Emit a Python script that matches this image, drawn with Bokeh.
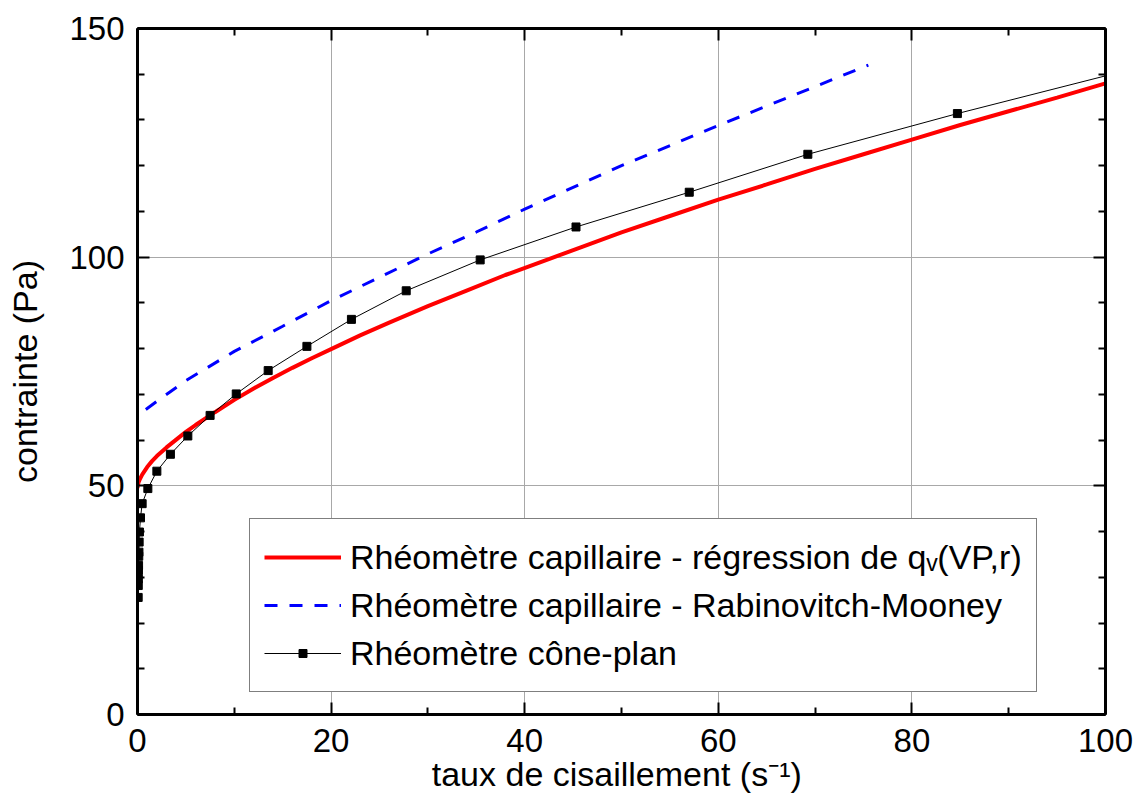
from bokeh.plotting import figure
from bokeh.models import (LinearAxis, Range1d, Legend, LegendItem, FixedTicker,
                          CustomLabelingPolicy)
from bokeh.embed import file_html
from bokeh.resources import INLINE

# ---- data ----
red_x = [0.0, 0.02, 0.1, 0.25, 0.5, 1.0, 1.5, 2.0, 3.0, 4.0, 5.0, 6.0, 8.0, 10.0, 12.0, 14.0, 16.0, 18.0, 20.0, 23.0, 26.0, 30.0, 34.0, 38.0, 42.0, 46.0, 50.0, 55.0, 60.0, 65.0, 70.0, 75.0, 80.0, 85.0, 90.0, 95.0, 100.0]
red_y = [49.5, 49.9, 50.7, 51.5, 52.5, 54.1, 55.4, 56.5, 58.4, 60.1, 61.8, 63.3, 66.1, 68.8, 71.3, 73.6, 75.8, 77.9, 79.9, 82.9, 85.7, 89.3, 92.7, 96.1, 99.2, 102.3, 105.4, 109.0, 112.6, 115.9, 119.3, 122.5, 125.7, 128.9, 131.9, 134.9, 138.0]

blue_x = [0.86, 2.0, 5.0, 10.0, 15.0, 20.0, 25.0, 30.0, 35.0, 40.0, 50.0, 60.0, 70.0, 75.5]
blue_y = [66.7, 68.5, 73.0, 79.4, 84.9, 90.5, 95.6, 100.7, 105.5, 110.5, 120.0, 128.8, 137.3, 142.0]

cone_x = [0.07, 0.08, 0.09, 0.1, 0.11, 0.13, 0.15, 0.17, 0.2, 0.31, 0.48, 1.07, 2.0, 3.4, 5.2, 7.5, 10.2, 13.5, 17.5, 22.1, 27.76, 35.4, 45.3, 57.0, 69.25, 84.7, 104.0]
cone_y = [25.6, 28.2, 29.7, 31.5, 32.6, 34.6, 35.5, 37.7, 39.9, 43.0, 46.1, 49.4, 53.2, 56.9, 60.9, 65.4, 70.1, 75.2, 80.5, 86.4, 92.65, 99.4, 106.6, 114.2, 122.5, 131.4, 141.8]

x_ticks = [0, 20, 40, 60, 80, 100]
x_minor = [10, 30, 50, 70, 90]
y_ticks = [0, 50, 100, 150]
y_minor = [10, 20, 30, 40, 60, 70, 80, 90, 110, 120, 130, 140]

labels = [
    "Rhéomètre capillaire - régression de qᵥ(VP,r)",
    "Rhéomètre capillaire - Rabinovitch-Mooney",
    "Rhéomètre cône-plan",
]

FONT = "Liberation Sans"

p = figure(width=1133, height=797, output_backend="svg", toolbar_location=None,
           x_range=Range1d(0, 100), y_range=Range1d(0, 150),
           min_border_left=137, min_border_right=28, min_border_top=28, min_border_bottom=83,
           x_axis_label="taux de cisaillement  (s⁻¹)", y_axis_label="contrainte (Pa)")

p.background_fill_color = "white"
p.border_fill_color = "white"
p.outline_line_color = "black"
p.outline_line_width = 2


def style_axis(ax, ticks, minor, labels_on=True):
    ax.ticker = FixedTicker(ticks=ticks, minor_ticks=minor)
    ax.axis_line_width = 3
    ax.axis_line_color = "black"
    ax.major_tick_in = 12
    ax.major_tick_out = 0
    ax.minor_tick_in = 7
    ax.minor_tick_out = 0
    ax.major_tick_line_width = 2
    ax.minor_tick_line_width = 2
    ax.major_tick_line_color = "black"
    ax.minor_tick_line_color = "black"
    if labels_on:
        ax.major_label_text_font = FONT
        ax.major_label_text_font_size = "33px"
        ax.major_label_text_color = "black"
        ax.axis_label_text_font = FONT
        ax.axis_label_text_font_size = "34px"
        ax.axis_label_text_font_style = "normal"
        ax.axis_label_text_color = "black"
    else:
        ax.major_label_policy = CustomLabelingPolicy(code="return []")
        ax.major_label_text_font_size = "1px"
        ax.major_label_standoff = 0


for ax in p.xaxis:
    style_axis(ax, x_ticks, x_minor)
    ax.major_label_standoff = 14
    ax.axis_label_standoff = 0
for ax in p.yaxis:
    style_axis(ax, y_ticks, y_minor)
    ax.major_label_standoff = 13
    ax.axis_label_standoff = 22

top_ax = LinearAxis()
style_axis(top_ax, x_ticks, x_minor, labels_on=False)
p.add_layout(top_ax, "above")
right_ax = LinearAxis()
style_axis(right_ax, y_ticks, y_minor, labels_on=False)
p.add_layout(right_ax, "right")

p.xgrid.ticker = FixedTicker(ticks=x_ticks)
p.ygrid.ticker = FixedTicker(ticks=y_ticks)
p.grid.grid_line_color = "#a8a8a8"
p.grid.grid_line_width = 1

r_red = p.line(red_x, red_y, line_color="#ff0000", line_width=4)
r_blue = p.line(blue_x, blue_y, line_color="#0000ff", line_width=3, line_dash="13 12")
r_cone = p.line(cone_x, cone_y, line_color="black", line_width=1)
r_cone_pts = p.scatter(cone_x, cone_y, marker="square", size=8, fill_color="black", line_color="black")

legend = Legend(items=[
    LegendItem(label=labels[0], renderers=[r_red]),
    LegendItem(label=labels[1], renderers=[r_blue]),
    LegendItem(label=labels[2], renderers=[r_cone, r_cone_pts]),
], location=(112, 22))
legend.label_text_font = FONT
legend.label_text_font_size = "34px"
legend.label_text_color = "black"
legend.glyph_width = 77
legend.glyph_height = 20
legend.label_height = 48
legend.label_standoff = 9
legend.padding = 14
legend.spacing = 0
legend.margin = 0
legend.border_line_color = "black"
legend.border_line_width = 1
legend.background_fill_color = "white"
legend.background_fill_alpha = 1
p.add_layout(legend, "center")

open("out.html", "w").write(file_html(p, INLINE))
